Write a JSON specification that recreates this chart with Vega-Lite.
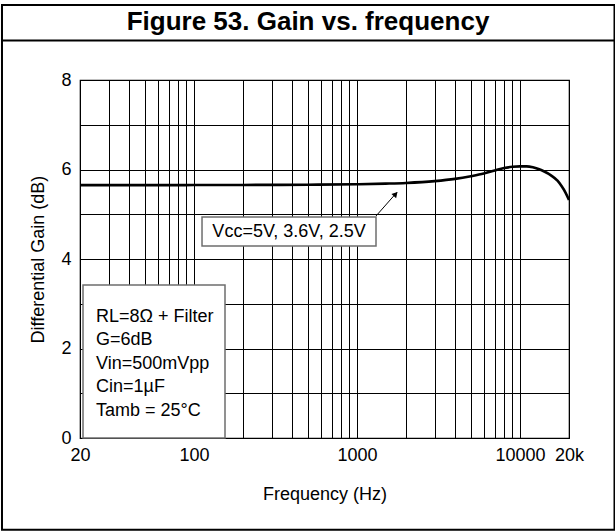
{
  "$schema": "https://vega.github.io/schema/vega-lite/v6.json",
  "width": 489,
  "height": 358,
  "padding": {"left": 0, "top": 3, "right": 0, "bottom": 1},
  "autosize": {"type": "pad"},
  "background": "white",
  "config": {
    "font": "Liberation Sans",
    "view": {"stroke": "black", "strokeWidth": 1.2},
    "axis": {
      "labelFont": "Liberation Sans",
      "titleFont": "Liberation Sans",
      "labelFontSize": 18,
      "titleFontSize": 18,
      "labelColor": "black",
      "titleColor": "black",
      "titleFontWeight": "normal",
      "grid": true,
      "gridColor": "black",
      "gridOpacity": 1,
      "gridWidth": 1,
      "ticks": false,
      "domain": false
    }
  },
  "data": {
    "values": [
      {"freq": 20, "gain": 5.65},
      {"freq": 30, "gain": 5.65},
      {"freq": 50, "gain": 5.65},
      {"freq": 100, "gain": 5.652},
      {"freq": 200, "gain": 5.655},
      {"freq": 500, "gain": 5.66},
      {"freq": 1000, "gain": 5.67},
      {"freq": 1500, "gain": 5.685},
      {"freq": 2000, "gain": 5.7},
      {"freq": 3000, "gain": 5.74},
      {"freq": 4000, "gain": 5.79},
      {"freq": 5000, "gain": 5.85},
      {"freq": 6000, "gain": 5.91},
      {"freq": 7000, "gain": 5.98},
      {"freq": 8000, "gain": 6.035},
      {"freq": 9000, "gain": 6.06},
      {"freq": 10000, "gain": 6.07},
      {"freq": 11000, "gain": 6.07},
      {"freq": 12000, "gain": 6.05},
      {"freq": 13000, "gain": 6.01},
      {"freq": 14000, "gain": 5.96},
      {"freq": 15500, "gain": 5.87},
      {"freq": 17000, "gain": 5.75},
      {"freq": 18000, "gain": 5.63},
      {"freq": 19000, "gain": 5.49},
      {"freq": 20000, "gain": 5.32}
    ]
  },
  "layer": [
    {
      "mark": {"type": "line", "color": "black", "strokeWidth": 2.6, "interpolate": "monotone"},
      "encoding": {
        "x": {
          "field": "freq",
          "type": "quantitative",
          "scale": {"type": "log", "domain": [20, 20000], "nice": false},
          "axis": {
            "title": "Frequency (Hz)",
            "values": [20, 30, 40, 50, 60, 70, 80, 90, 100, 200, 300, 400, 500, 600, 700, 800, 900, 1000, 2000, 3000, 4000, 5000, 6000, 7000, 8000, 9000, 10000, 20000],
            "labelExpr": "datum.value == 20000 ? '20k' : (datum.value == 20 || datum.value == 100 || datum.value == 1000 || datum.value == 10000 ? format(datum.value, 'd') : '')",
            "labelFlush": false,
            "labelOverlap": false,
            "labelPadding": 8,
            "titlePadding": 21
          }
        },
        "y": {
          "field": "gain",
          "type": "quantitative",
          "scale": {"domain": [0, 8], "nice": false, "zero": false},
          "axis": {
            "title": "Differential Gain (dB)",
            "values": [0, 1, 2, 3, 4, 5, 6, 7, 8],
            "labelExpr": "datum.value % 2 == 0 ? datum.label : ''",
            "labelOverlap": false,
            "labelPadding": 9,
            "titlePadding": 13
          }
        }
      }
    },
    {
      "data": {"values": [{}]},
      "mark": {"type": "rect", "fill": "white", "stroke": "#6e6e6e", "strokeWidth": 1.5, "clip": false},
      "encoding": {
        "x": {"datum": 20.87, "type": "quantitative"},
        "x2": {"datum": 155.1},
        "y": {"datum": 0, "type": "quantitative"},
        "y2": {"datum": 3.419}
      }
    },
    {
      "data": {"values": [{}]},
      "mark": {
        "type": "text",
        "text": ["RL=8Ω + Filter", "G=6dB", "Vin=500mVpp", "Cin=1µF", "Tamb = 25°C"],
        "align": "left",
        "baseline": "alphabetic",
        "fontSize": 18,
        "lineHeight": 23.5,
        "color": "black"
      },
      "encoding": {
        "x": {"datum": 25.07, "type": "quantitative"},
        "y": {"datum": 2.599, "type": "quantitative"}
      }
    },
    {
      "data": {"values": [{}]},
      "mark": {"type": "rect", "fill": "white", "stroke": "#6e6e6e", "strokeWidth": 1.5},
      "encoding": {
        "x": {"datum": 112.1, "type": "quantitative"},
        "x2": {"datum": 1309.2},
        "y": {"datum": 4.2905, "type": "quantitative"},
        "y2": {"datum": 4.9385}
      }
    },
    {
      "data": {"values": [{}]},
      "mark": {"type": "text", "text": "Vcc=5V, 3.6V, 2.5V", "align": "center", "baseline": "middle", "fontSize": 18, "color": "black"},
      "encoding": {
        "x": {"datum": 383.1, "type": "quantitative"},
        "y": {"datum": 4.6034, "type": "quantitative"}
      }
    },
    {
      "data": {"values": [{}]},
      "mark": {"type": "rule", "color": "black", "strokeWidth": 1},
      "encoding": {
        "x": {"datum": 1309.2, "type": "quantitative"},
        "y": {"datum": 4.9609, "type": "quantitative"},
        "x2": {"datum": 1760},
        "y2": {"datum": 5.49}
      }
    },
    {
      "data": {"values": [{}]},
      "mark": {"type": "point", "shape": "triangle-up", "filled": true, "color": "black", "size": 40, "angle": 41.7, "opacity": 1},
      "encoding": {
        "x": {"datum": 1727, "type": "quantitative"},
        "y": {"datum": 5.4525, "type": "quantitative"}
      }
    },
    {
      "data": {"values": [{}]},
      "mark": {"type": "rect", "fill": null, "fillOpacity": 0, "stroke": "black", "strokeWidth": 2, "clip": false},
      "encoding": {
        "x": {"datum": 6.644, "type": "quantitative"},
        "x2": {"datum": 38030},
        "y": {"datum": -2.049, "type": "quantitative"},
        "y2": {"datum": 9.676}
      }
    },
    {
      "data": {"values": [{}]},
      "mark": {"type": "rule", "color": "black", "strokeWidth": 2, "clip": false},
      "encoding": {
        "x": {"datum": 6.644, "type": "quantitative"},
        "x2": {"datum": 38030},
        "y": {"datum": 8.883, "type": "quantitative"}
      }
    },
    {
      "data": {"values": [{}]},
      "mark": {"type": "text", "text": "Figure 53. Gain vs. frequency", "align": "center", "baseline": "middle", "fontSize": 26, "fontWeight": "bold", "color": "black", "clip": false},
      "encoding": {
        "x": {"datum": 501, "type": "quantitative"},
        "y": {"datum": 9.285, "type": "quantitative"}
      }
    }
  ]
}
